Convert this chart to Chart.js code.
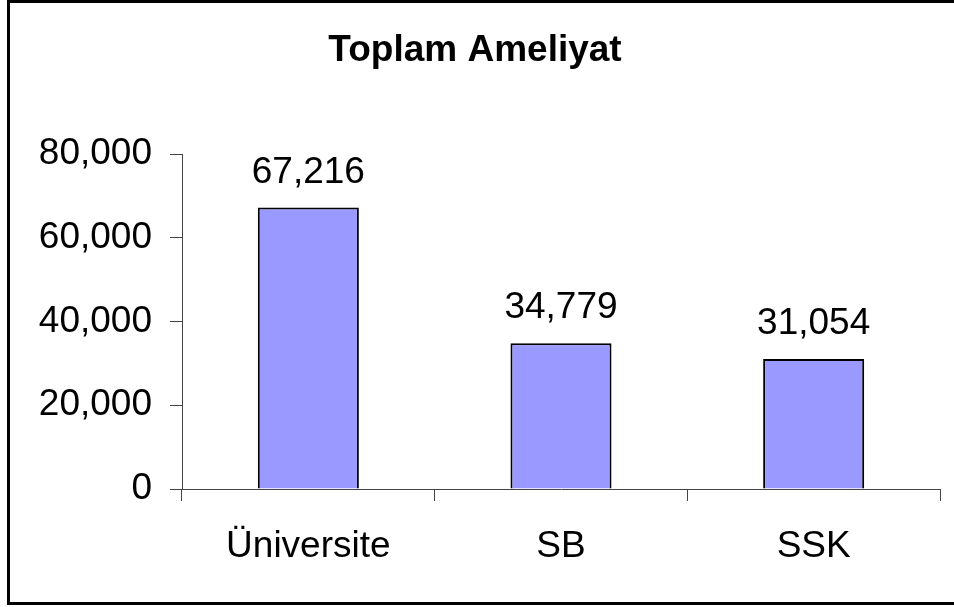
<!DOCTYPE html>
<html lang="tr">
<head>
    <meta charset="UTF-8">
    <title>Toplam Ameliyat</title>
    <script src="https://cdn.jsdelivr.net/npm/chart.js"></script>
    <style>
        html, body { margin: 0; padding: 0; background: #fff; overflow: hidden; }
        #frame {
            position: absolute; left: 7px; top: 0; width: 1000px; height: 605px;
            box-sizing: border-box; border: 3px solid #000; border-right: none;
        }
        #chart { position: absolute; left: 0; top: 0; }
    </style>
</head>
<body>
    <div id="frame"></div>
    <canvas id="chart" width="954" height="607"></canvas>
    <script>
        // veriler
        const categories = ['Üniversite', 'SB', 'SSK'];
        const ameliyat = [67216, 34779, 31054];
        const yTicks = [0, 20000, 40000, 60000, 80000];

        const FONT = "'Liberation Sans', Arial, sans-serif";
        const fmt = v => Number(v).toLocaleString('en-US');

        // bar ustu degerler
        const valueLabels = {
            id: 'valueLabels',
            afterDatasetsDraw(chart) {
                const ctx = chart.ctx;
                const meta = chart.getDatasetMeta(0);
                ctx.save();
                ctx.font = '37px ' + FONT;
                ctx.fillStyle = '#000';
                ctx.textAlign = 'center';
                ctx.textBaseline = 'alphabetic';
                meta.data.forEach((bar, i) => {
                    ctx.fillText(fmt(ameliyat[i]), bar.x, bar.y - 25);
                });
                ctx.restore();
            }
        };

        new Chart(document.getElementById('chart'), {
            type: 'bar',
            data: {
                labels: categories,
                datasets: [{
                    data: ameliyat,
                    backgroundColor: '#9999ff',
                    borderColor: '#000',
                    borderWidth: 2,
                    categoryPercentage: 1,
                    barPercentage: 0.4
                }]
            },
            options: {
                responsive: false,
                animation: false,
                layout: { padding: { left: 10, right: 14, top: 0, bottom: 0 } },
                plugins: {
                    legend: { display: false },
                    tooltip: { enabled: false },
                    title: {
                        display: true,
                        text: 'Toplam Ameliyat',
                        color: '#000',
                        font: { family: FONT, size: 37, weight: 'bold', lineHeight: 1.2 },
                        padding: { top: 29, bottom: 80.6 }
                    }
                },
                scales: {
                    x: {
                        afterFit: s => { s.height = 118; },
                        grid: { drawOnChartArea: false, drawTicks: true, tickLength: 12, color: '#444', offset: true },
                        border: { display: true, color: '#444', width: 1 },
                        ticks: { color: '#000', padding: 24, font: { family: FONT, size: 37 } }
                    },
                    y: {
                        min: 0,
                        max: 80000,
                        afterFit: s => { s.width = 172; },
                        afterBuildTicks: s => { s.ticks = yTicks.map(v => ({ value: v })); },
                        grid: { drawOnChartArea: false, drawTicks: true, tickLength: 12, color: '#444' },
                        border: { display: true, color: '#444', width: 1 },
                        ticks: { color: '#000', padding: 18, callback: v => fmt(v), font: { family: FONT, size: 37 } }
                    }
                }
            },
            plugins: [valueLabels]
        });
    </script>
</body>
</html>
